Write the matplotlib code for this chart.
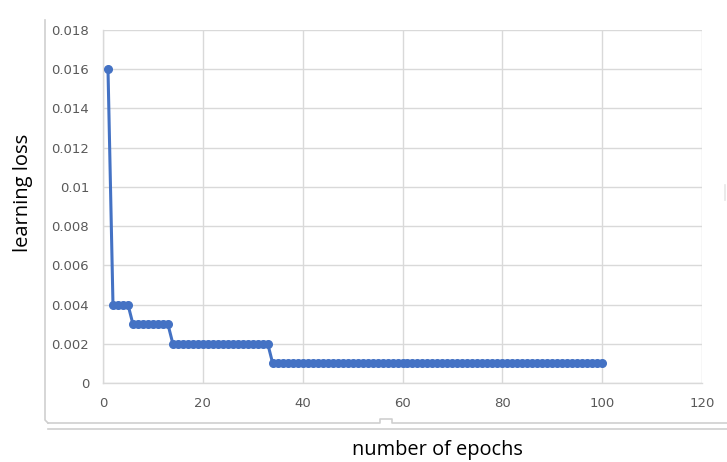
import matplotlib
matplotlib.use("Agg")
import matplotlib.pyplot as plt
from matplotlib.lines import Line2D

epochs = list(range(1, 101))
loss = [0.016] + [0.004] * 4 + [0.003] * 8 + [0.002] * 20 + [0.001] * 67

x_ticks = [0, 20, 40, 60, 80, 100, 120]
y_ticks = [0, 0.002, 0.004, 0.006, 0.008, 0.01, 0.012, 0.014, 0.016, 0.018]
y_tick_labels = ["0", "0.002", "0.004", "0.006", "0.008", "0.01", "0.012", "0.014", "0.016", "0.018"]

W, H = 727, 462
fig = plt.figure(figsize=(W / 100, H / 100), dpi=100)
left, right, top, bottom = 103, 702, 30, 383
ax = fig.add_axes([left / W, 1 - bottom / H, (right - left) / W, (bottom - top) / H])

ax.plot(epochs, loss, color="#4472C4", lw=2.2, marker="o", ms=5.5,
        markerfacecolor="#4472C4", markeredgecolor="#4472C4", zorder=3, clip_on=False)

ax.set_xlim(0, 120)
ax.set_ylim(0, 0.018)
ax.set_xticks(x_ticks)
ax.set_xticklabels([str(v) for v in x_ticks])
ax.set_yticks(y_ticks)
ax.set_yticklabels(y_tick_labels)
ax.grid(True, color="#D9D9D9", lw=1)
ax.set_axisbelow(True)
for s in ["top", "right"]:
    ax.spines[s].set_visible(False)
for s in ["left", "bottom"]:
    ax.spines[s].set_color("#D9D9D9")
    ax.spines[s].set_linewidth(1)
ax.tick_params(length=0, colors="#595959", labelsize=9.5, pad=10)
for lab in ax.get_xticklabels() + ax.get_yticklabels():
    lab.set_color("#595959")

fig.text(23 / W, 1 - 193 / H, "learning loss", rotation=90, ha="center", va="center",
         fontsize=14.5, color="black", family="Open Sans")
fig.text(437 / W, 1 - 450 / H, "number of epochs", ha="center", va="center",
         fontsize=14.4, color="black", family="Open Sans")

def px_line(xs, ys, color="#CFCFCF", lw=1.2):
    fig.add_artist(Line2D([x / W for x in xs], [1 - y / H for y in ys],
                          color=color, lw=lw, transform=fig.transFigure))

px_line([45, 45, 48], [20, 420, 423])
px_line([48, 380, 380, 392, 392, 727], [423, 423, 419, 419, 423, 423])
px_line([48, 727], [429, 429])
px_line([725, 725], [185, 200], color="#E6E6E6")

fig.savefig("out.png", dpi=100)
